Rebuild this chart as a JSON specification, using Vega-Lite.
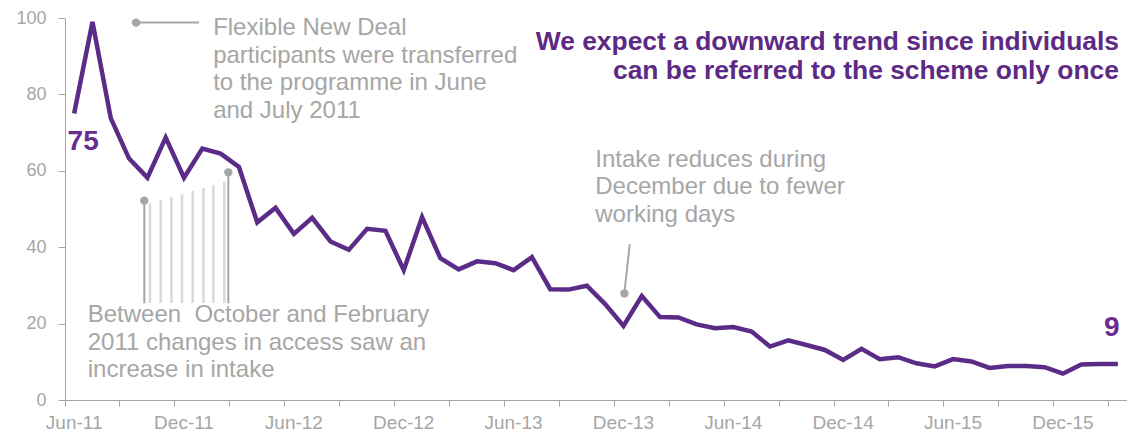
{
  "$schema": "https://vega.github.io/schema/vega-lite/v6.json",
  "width": 1062,
  "height": 382,
  "autosize": {"type": "none"},
  "padding": {"left": 65, "top": 18, "right": 0, "bottom": 37},
  "config": {"font": "Liberation Sans", "view": {"stroke": null}},
  "datasets": {
    "intake": [
      {"month": "Jun-11", "value": 75}, {"month": "Jul-11", "value": 99}, {"month": "Aug-11", "value": 73.8},
      {"month": "Sep-11", "value": 63.2}, {"month": "Oct-11", "value": 58.2}, {"month": "Nov-11", "value": 68.7},
      {"month": "Dec-11", "value": 58.2}, {"month": "Jan-12", "value": 65.8}, {"month": "Feb-12", "value": 64.5},
      {"month": "Mar-12", "value": 61}, {"month": "Apr-12", "value": 46.5}, {"month": "May-12", "value": 50.3},
      {"month": "Jun-12", "value": 43.5}, {"month": "Jul-12", "value": 47.7}, {"month": "Aug-12", "value": 41.5},
      {"month": "Sep-12", "value": 39.3}, {"month": "Oct-12", "value": 44.8}, {"month": "Nov-12", "value": 44.3},
      {"month": "Dec-12", "value": 34}, {"month": "Jan-13", "value": 47.9}, {"month": "Feb-13", "value": 37.1},
      {"month": "Mar-13", "value": 34.2}, {"month": "Apr-13", "value": 36.3}, {"month": "May-13", "value": 35.8},
      {"month": "Jun-13", "value": 34}, {"month": "Jul-13", "value": 37.4}, {"month": "Aug-13", "value": 29},
      {"month": "Sep-13", "value": 28.9}, {"month": "Oct-13", "value": 29.9}, {"month": "Nov-13", "value": 25.1},
      {"month": "Dec-13", "value": 19.4}, {"month": "Jan-14", "value": 27.2}, {"month": "Feb-14", "value": 21.7},
      {"month": "Mar-14", "value": 21.6}, {"month": "Apr-14", "value": 19.8}, {"month": "May-14", "value": 18.8},
      {"month": "Jun-14", "value": 19.1}, {"month": "Jul-14", "value": 17.9}, {"month": "Aug-14", "value": 14},
      {"month": "Sep-14", "value": 15.6}, {"month": "Oct-14", "value": 14.4}, {"month": "Nov-14", "value": 13.1},
      {"month": "Dec-14", "value": 10.5}, {"month": "Jan-15", "value": 13.4}, {"month": "Feb-15", "value": 10.7},
      {"month": "Mar-15", "value": 11.2}, {"month": "Apr-15", "value": 9.6}, {"month": "May-15", "value": 8.8},
      {"month": "Jun-15", "value": 10.7}, {"month": "Jul-15", "value": 10.1}, {"month": "Aug-15", "value": 8.4},
      {"month": "Sep-15", "value": 8.9}, {"month": "Oct-15", "value": 8.9}, {"month": "Nov-15", "value": 8.6},
      {"month": "Dec-15", "value": 6.9}, {"month": "Jan-16", "value": 9.3}, {"month": "Feb-16", "value": 9.4},
      {"month": "Mar-16", "value": 9.4}
    ],
    "notes": [
      {"pos": 7.59, "y": 95.5, "text": "Flexible New Deal\nparticipants were transferred\nto the programme in June\nand July 2011"},
      {"pos": 28.46, "y": 61.1, "text": "Intake reduces during\nDecember due to fewer\nworking days"},
      {"pos": 0.74, "y": 20.4, "text": "Between\u00a0 October and February\n2011 changes in access saw an\nincrease in intake"}
    ],
    "headline": [
      {"pos": 57.06, "y": 91.6, "text": "We expect a downward trend since individuals\ncan be referred to the scheme only once"}
    ],
    "connectors": [
      {"pos": 3.38, "y": 98.8, "pos2": 6.82, "y2": 98.8},
      {"pos": 30.34, "y": 40.8, "pos2": 30.05, "y2": 27.9},
      {"pos": 3.83, "y": 52.2, "pos2": 3.83, "y2": 25.3},
      {"pos": 8.42, "y": 59.6, "pos2": 8.42, "y2": 25.3}
    ],
    "dots": [
      {"pos": 3.38, "y": 98.8}, {"pos": 30.05, "y": 27.9}, {"pos": 3.83, "y": 52.2}, {"pos": 8.42, "y": 59.6}
    ],
    "hatch": [
      {"pos": 4.14, "top": 51.5, "bottom": 25.4}, {"pos": 4.73, "top": 52.3, "bottom": 25.4},
      {"pos": 5.31, "top": 53.1, "bottom": 25.4}, {"pos": 5.89, "top": 53.9, "bottom": 25.4},
      {"pos": 6.47, "top": 54.7, "bottom": 25.4}, {"pos": 7.06, "top": 55.5, "bottom": 25.4},
      {"pos": 7.6, "top": 56.3, "bottom": 25.4}, {"pos": 8.2, "top": 57.1, "bottom": 25.4}
    ]
  },
  "layer": [
    {
      "layer": [
        {
          "data": {"name": "hatch"},
          "mark": {"type": "rule", "color": "#d9d9d9", "strokeWidth": 2.5},
          "encoding": {
            "x": {"field": "pos", "type": "quantitative", "scale": {"domain": [-0.5, 57.5], "nice": false, "zero": false}, "axis": null},
            "y": {"field": "top", "type": "quantitative"},
            "y2": {"field": "bottom"}
          }
        },
        {
          "data": {"name": "connectors"},
          "mark": {"type": "rule", "color": "#a6a6a6", "strokeWidth": 2},
          "encoding": {
            "x": {"field": "pos", "type": "quantitative"},
            "x2": {"field": "pos2"},
            "y": {"field": "y", "type": "quantitative"},
            "y2": {"field": "y2"}
          }
        },
        {
          "data": {"name": "dots"},
          "mark": {"type": "point", "filled": true, "color": "#a6a6a6", "size": 70, "opacity": 1},
          "encoding": {
            "x": {"field": "pos", "type": "quantitative"},
            "y": {"field": "y", "type": "quantitative"}
          }
        },
        {
          "data": {"name": "notes"},
          "mark": {"type": "text", "align": "left", "baseline": "alphabetic", "fontSize": 24, "lineHeight": 27.5, "lineBreak": "\n", "color": "#a6a6a6"},
          "encoding": {
            "x": {"field": "pos", "type": "quantitative"},
            "y": {"field": "y", "type": "quantitative"},
            "text": {"field": "text"}
          }
        },
        {
          "data": {"name": "headline"},
          "mark": {"type": "text", "align": "right", "baseline": "alphabetic", "fontSize": 26.4, "fontWeight": "bold", "lineHeight": 29, "lineBreak": "\n", "color": "#5c2a85"},
          "encoding": {
            "x": {"field": "pos", "type": "quantitative"},
            "y": {"field": "y", "type": "quantitative"},
            "text": {"field": "text"}
          }
        }
      ]
    },
    {
      "data": {"name": "intake"},
      "layer": [
        {
          "mark": {"type": "line", "color": "#5b2c87", "strokeWidth": 4.5},
          "encoding": {
            "x": {
              "field": "month", "type": "ordinal", "sort": null, "bandPosition": 0.5,
              "scale": {"type": "band", "paddingInner": 0, "paddingOuter": 0},
              "axis": {
                "orient": "bottom",
                "title": null,
                "values": ["Jun-11", "Sep-11", "Dec-11", "Mar-12", "Jun-12", "Sep-12", "Dec-12", "Mar-13", "Jun-13", "Sep-13", "Dec-13", "Mar-14", "Jun-14", "Sep-14", "Dec-14", "Mar-15", "Jun-15", "Sep-15", "Dec-15", "Mar-16"],
                "bandPosition": 0,
                "labelExpr": "indexof(datum.label, 'Jun') == 0 || indexof(datum.label, 'Dec') == 0 ? datum.label : ''",
                "labelOffset": 0,
                "labelAngle": 0,
                "labelOverlap": false,
                "labelFontSize": 19,
                "labelColor": "#a6a6a6",
                "labelPadding": 7,
                "tickSize": 6,
                "tickColor": "#a6a6a6",
                "domainColor": "#a6a6a6",
                "grid": false
              }
            },
            "y": {
              "field": "value", "type": "quantitative",
              "scale": {"domain": [0, 100], "nice": false},
              "axis": {
                "orient": "left",
                "title": null,
                "values": [0, 20, 40, 60, 80, 100],
                "labelFontSize": 18,
                "labelColor": "#a6a6a6",
                "labelPadding": 12,
                "tickSize": 7,
                "tickColor": "#a6a6a6",
                "domainColor": "#a6a6a6",
                "grid": false
              }
            }
          }
        },
        {
          "transform": [{"filter": "datum.month == 'Jun-11'"}],
          "mark": {"type": "text", "fontSize": 28, "fontWeight": "bold", "color": "#6a2d8f", "dx": 9, "dy": 28, "baseline": "middle"},
          "encoding": {
            "x": {"field": "month", "type": "ordinal", "sort": null, "bandPosition": 0.5},
            "y": {"field": "value", "type": "quantitative"},
            "text": {"field": "value", "format": ".0f"}
          }
        },
        {
          "transform": [{"filter": "datum.month == 'Mar-16'"}],
          "mark": {"type": "text", "fontSize": 28, "fontWeight": "bold", "color": "#6a2d8f", "dx": -6, "dy": -36, "baseline": "middle"},
          "encoding": {
            "x": {"field": "month", "type": "ordinal", "sort": null, "bandPosition": 0.5},
            "y": {"field": "value", "type": "quantitative"},
            "text": {"field": "value", "format": ".0f"}
          }
        }
      ]
    }
  ],
  "resolve": {"scale": {"x": "independent"}}
}
